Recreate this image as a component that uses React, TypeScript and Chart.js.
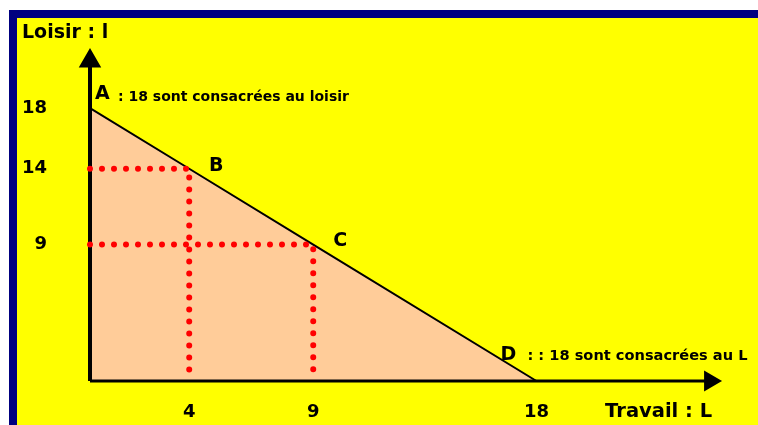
import React, { useEffect, useRef } from "react";
import { Chart, registerables } from "chart.js";

Chart.register(...registerables);

// Travail (L) and Loisir (l) for the named points on the budget line
const pointNames = ["A", "B", "C", "D"];
const travailL = [0, 4, 9, 18];
const loisirL = [18, 14, 9, 0];
// points with dotted guides to the axes
const guidePoints = [1, 2];
// tick labels
const xTicks = [4, 9, 18];
const yTicks = [9, 14, 18];
// axis extents (arrow tips) and scale ranges
const axisEndL = 25;
const axisEndl = 21.1;
const scaleMaxL = 25.4;
const scaleMaxl = 21.7;
// texts
const yAxisTitle = "Loisir : l";
const xAxisTitle = "Travail : L";
const noteA = ": 18 sont consacrées au loisir";
const noteD = ": : 18 sont consacrées au L";

const FONT = "'DejaVu Sans', sans-serif";

const backgroundPlugin = {
  id: "slideBg",
  beforeDraw(chart: any) {
    const { ctx, width, height } = chart;
    ctx.save();
    ctx.fillStyle = "#ffffff";
    ctx.fillRect(0, 0, width, height);
    ctx.fillStyle = "#000080";
    ctx.fillRect(9, 10, width - 9, height - 10);
    ctx.fillStyle = "#ffff00";
    ctx.fillRect(17, 18, width - 17, height - 18);
    ctx.restore();
  },
};

const labelsPlugin = {
  id: "labels",
  afterDatasetsDraw(chart: any) {
    const { ctx } = chart;
    const xs = chart.scales.x;
    const ys = chart.scales.y;
    ctx.save();
    ctx.fillStyle = "#000";
    ctx.textBaseline = "middle";

    // axis titles
    ctx.font = `bold 19px ${FONT}`;
    ctx.textAlign = "left";
    ctx.fillText(yAxisTitle, 22, 33);
    ctx.textAlign = "right";
    ctx.font = `bold 19.5px ${FONT}`;
    ctx.fillText(xAxisTitle, xs.getPixelForValue(axisEndL) + 2, 412);

    // tick labels
    ctx.font = `bold 18px ${FONT}`;
    ctx.textAlign = "center";
    xTicks.forEach((v) => ctx.fillText(String(v), xs.getPixelForValue(v), 412));
    ctx.textAlign = "right";
    yTicks.forEach((v) => ctx.fillText(String(v), 47, ys.getPixelForValue(v)));

    // point labels
    pointNames.forEach((name, i) => {
      const px = xs.getPixelForValue(travailL[i]);
      const py = ys.getPixelForValue(loisirL[i]);
      ctx.font = `bold 19px ${FONT}`;
      if (i === 0) {
        ctx.textAlign = "left";
        ctx.fillText(name, px + 5, py - 14);
        ctx.font = `bold 14px ${FONT}`;
        ctx.fillText(noteA, px + 28, py - 11);
      } else if (i === pointNames.length - 1) {
        ctx.textAlign = "center";
        ctx.fillText(name, px - 28, py - 26);
        ctx.textAlign = "left";
        ctx.font = `bold 14.6px ${FONT}`;
        ctx.fillText(noteD, px - 9, py - 25);
      } else {
        ctx.textAlign = "center";
        ctx.fillText(name, px + 27, py - 3);
      }
    });
    ctx.restore();
  },
};

export default function App() {
  const ref = useRef<HTMLCanvasElement | null>(null);

  useEffect(() => {
    if (!ref.current) return;
    const budget = travailL.map((L, i) => ({ x: L, y: loisirL[i] }));
    const guides = guidePoints.map((i) => ({
      data: [
        { x: 0, y: loisirL[i] },
        { x: travailL[i], y: loisirL[i] },
        { x: travailL[i], y: 0 },
      ],
      showLine: true,
      borderColor: "#ff0000",
      borderWidth: 6,
      borderDash: [0, 12],
      borderCapStyle: "round",
      pointRadius: 0,
      fill: false,
      clip: false,
      order: 0,
    }));

    const chart = new Chart(ref.current, {
      type: "scatter",
      data: {
        datasets: [
          ...(guides as any[]),
          {
            data: [
              { x: 0, y: 0 },
              { x: 0, y: axisEndl },
            ],
            showLine: true,
            borderColor: "#000",
            borderWidth: 4,
            pointStyle: "triangle",
            pointRadius: [0, 9],
            pointBackgroundColor: "#000",
            pointBorderColor: "#000",
            pointRotation: 0,
            clip: false,
            order: 1,
          },
          {
            data: [
              { x: 0, y: 0 },
              { x: axisEndL, y: 0 },
            ],
            showLine: true,
            borderColor: "#000",
            borderWidth: 3,
            pointStyle: "triangle",
            pointRadius: [0, 9],
            pointBackgroundColor: "#000",
            pointBorderColor: "#000",
            pointRotation: 90,
            clip: false,
            order: 1,
          },
          {
            data: budget,
            showLine: true,
            borderColor: "#000",
            borderWidth: 2,
            backgroundColor: "#ffcc99",
            fill: "origin",
            pointRadius: 0,
            clip: false,
            order: 2,
          },
        ],
      },
      options: {
        animation: false,
        responsive: false,
        devicePixelRatio: 1,
        layout: { padding: { left: 90, right: 38, top: 52, bottom: 44 } },
        scales: {
          x: { type: "linear", min: 0, max: scaleMaxL, display: false },
          y: { type: "linear", min: 0, max: scaleMaxl, display: false },
        },
        plugins: {
          legend: { display: false },
          tooltip: { enabled: false },
        },
        events: [],
      },
      plugins: [backgroundPlugin, labelsPlugin],
    } as any);
    return () => chart.destroy();
  }, []);

  return (
    <div style={{ position: "fixed", left: 0, top: 0, width: 758, height: 425 }}>
      <canvas ref={ref} width={758} height={425} style={{ display: "block" }} />
    </div>
  );
}
